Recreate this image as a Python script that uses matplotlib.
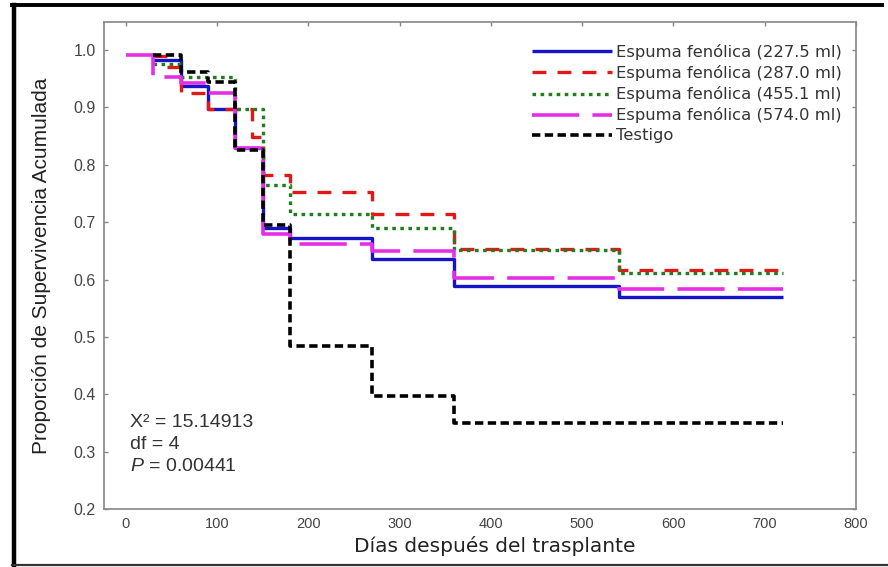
import matplotlib
matplotlib.use("Agg")
import matplotlib.pyplot as plt
from matplotlib.lines import Line2D

plt.rcParams['lines.scale_dashes'] = False
plt.rcParams['mathtext.fontset'] = 'custom'
plt.rcParams['mathtext.rm'] = 'Liberation Sans'
plt.rcParams['mathtext.it'] = 'Liberation Sans:italic'

# datos (curvas de Kaplan-Meier)
dias = [30, 60, 90, 120, 150, 180, 270, 360, 540, 720]
dias_287 = [30, 45, 60, 90, 138, 150, 180, 270, 360, 540, 720]
dias_574 = [0] + dias
sup_227 = [0.983, 0.937, 0.898, 0.830, 0.690, 0.672, 0.635, 0.588, 0.569, 0.569]
sup_287 = [0.990, 0.970, 0.925, 0.897, 0.848, 0.782, 0.752, 0.715, 0.654, 0.616, 0.616]
sup_455 = [0.975, 0.953, 0.953, 0.897, 0.765, 0.715, 0.690, 0.651, 0.612, 0.612]
sup_574 = [0.991, 0.953, 0.942, 0.925, 0.830, 0.680, 0.662, 0.650, 0.603, 0.584, 0.584]
sup_testigo = [0.991, 0.962, 0.944, 0.825, 0.695, 0.485, 0.397, 0.350, 0.350, 0.350]

etiquetas = ['Espuma fenólica (227.5 ml)', 'Espuma fenólica (287.0 ml)',
             'Espuma fenólica (455.1 ml)', 'Espuma fenólica (574.0 ml)', 'Testigo']
xticks = [0, 100, 200, 300, 400, 500, 600, 700, 800]
yticks = [0.2, 0.3, 0.4, 0.5, 0.6, 0.7, 0.8, 0.9, 1.0]

fig = plt.figure(figsize=(8.88, 5.67), dpi=100)
ax = fig.add_axes([104/888, 1-509/567, 752/888, 487/567])

ax.plot(dias, sup_227, drawstyle='steps-post', color='#1414c8', lw=2.4,
        solid_capstyle='butt', label=etiquetas[0])
ax.plot(dias_287, sup_287, drawstyle='steps-post', color='#e01818', lw=2.4,
        dashes=(10, 8), dash_capstyle='butt', label=etiquetas[1])
ax.plot(dias, sup_455, drawstyle='steps-post', color='#1f7f1f', lw=2.4,
        dashes=(2.6, 3.2), dash_capstyle='butt', label=etiquetas[2])
ax.plot(dias_574, sup_574, drawstyle='steps-post', color='#e62ee6', lw=2.6,
        dashes=(34, 9.5), dash_capstyle='butt', label=etiquetas[3])
ax.plot(dias, sup_testigo, drawstyle='steps-post', color='black', lw=2.6,
        dashes=(6, 3.2), dash_capstyle='butt', label=etiquetas[4])

ax.set_xlim(-24, 800)
ax.set_ylim(0.2, 1.049)
ax.set_xticks(xticks)
ax.set_yticks(yticks)
ax.set_xticklabels([str(t) for t in xticks], family='Liberation Sans', fontsize=10.5, color='#444444')
ax.set_yticklabels(['%.1f' % t for t in yticks], family='Liberation Sans', fontsize=11.5, color='#444444')
ax.tick_params(direction='in', length=3, width=1, color='#888888',
               top=True, right=True, bottom=False, pad=6)
for s in ax.spines.values():
    s.set_color('#888888')
    s.set_linewidth(1.2)

ax.set_xlabel('Días después del trasplante', family='DejaVu Sans', fontsize=14.5, color='#222222')
ax.xaxis.set_label_coords(0.52, -0.055)
ax.set_ylabel('Proporción de Supervivencia Acumulada', family='Liberation Sans',
              fontsize=15, color='#222222')
ax.yaxis.set_label_coords(-0.07, 0.5)

leg = ax.legend(loc='upper right', bbox_to_anchor=(0.99, 0.968), frameon=False, handlelength=4.9,
                handletextpad=0.25, labelspacing=0.31, borderaxespad=0,
                prop={'family': 'DejaVu Sans', 'size': 11.8})
for t in leg.get_texts():
    t.set_color('#333333')

txt = dict(transform=ax.transAxes, family='Liberation Sans', fontsize=14, color='#333333', va='center')
ax.text(0.035, 0.177, 'X² = 15.14913', **txt)
ax.text(0.035, 0.132, 'df = 4', **txt)
ax.text(0.035, 0.087, r'$\mathit{P}$ = 0.00441', **txt)

# marco negro de la figura (izquierda, arriba, abajo)
fig.add_artist(Line2D([14/888, 14/888], [1-4.5/567, 1-565/567], transform=fig.transFigure,
                      color='black', lw=3.2))
fig.add_artist(Line2D([12/888, 882/888], [1-4.5/567, 1-4.5/567], transform=fig.transFigure,
                      color='black', lw=2.8))
fig.add_artist(Line2D([12/888, 888/888], [1-565/567, 1-565/567], transform=fig.transFigure,
                      color='#333333', lw=1.6))

fig.savefig('out.png', dpi=100)
